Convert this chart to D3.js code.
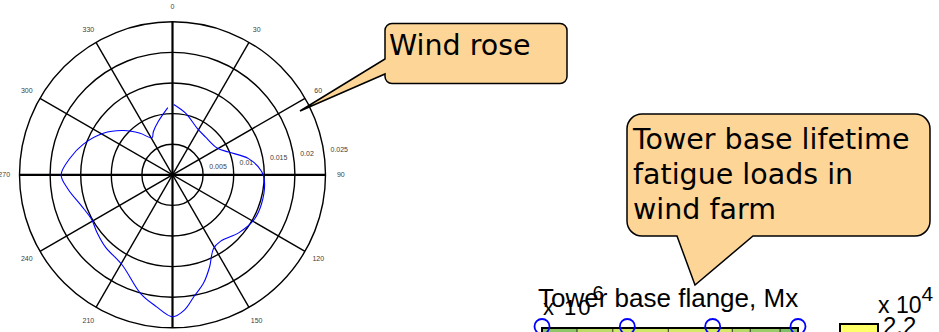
<!DOCTYPE html>
<html>
  <head>
    <meta charset="utf-8">
    <title>Wind rose and tower loads</title>
    <script src="https://d3js.org/d3.v7.min.js"></script>
    <style>
body { margin: 0; background: #fff; }
svg { display: block; }
.plabel { font: 7px "Liberation Sans", Arial, sans-serif; fill: #404040; }
.callout { fill: #fdd597; stroke: #000; stroke-width: 1.5; }
.ctext { font-family: "DejaVu Sans", Verdana, sans-serif; font-size: 28.5px; fill: #000; }
.mtext { font-family: "Liberation Sans", Arial, sans-serif; fill: #000; }
    </style>
  </head>
  <body>
<script>

var windDir  = [1, 12, 28, 41, 59, 68, 78, 88, 95, 108, 119, 131, 144, 151, 158, 164, 170, 175, 180,
                187, 195, 209, 223, 233, 241, 251, 262, 270, 279, 289, 301, 312, 322, 331, 336, 345, 356];
var windFreq = [0.0115, 0.0103, 0.0086, 0.0082, 0.0085, 0.0099, 0.0127, 0.0146, 0.0151, 0.0153, 0.0152,
                0.0144, 0.0134, 0.0138, 0.0162, 0.0184, 0.0202, 0.0222, 0.0232,
                0.0217, 0.0201, 0.0169, 0.0161, 0.0155, 0.0151, 0.0157, 0.0172, 0.0182, 0.0170,
                0.0154, 0.0132, 0.0108, 0.0086, 0.0069, 0.0077, 0.0090, 0.0110];

var radialTicks = [0.005, 0.01, 0.015, 0.02, 0.025];
var angleTicks = [0, 30, 60, 90, 120, 150, 180, 210, 240, 270, 300, 330];

var windCallout = ["Wind rose"];
var towerCallout = ["Tower base lifetime", "fatigue loads in", "wind farm"];
var flangeTitle = "Tower base flange, Mx";

// strip of the contour plot that is still visible at the bottom
var turbines = [0, 1, 2, 3];
var bandEdges = [0, 0.41, 0.83, 1.48, 2.23, 2.44, 2.79, 3];
var bandLevels = [1.88, 2.01, 2.07, 2.08, 2.0, 1.92, 1.85];
var colorbarTop = 2.2;

var width = 939,
    height = 332,
    svg = d3.select("body")
      .append("svg")
      .attr("width", width)
      .attr("height", height);

// ---- polar plot ----
var cx = 172.5, cy = 174.8, R = 153;

var rScale = d3.scaleLinear().domain([0, 0.025]).range([0, R]);

var polarG = svg.append("g")
  .attr("transform", "translate(" + cx + "," + cy + ")");

polarG.selectAll("circle.ring").data(radialTicks)
  .enter().append("circle")
    .attr("class", "ring")
    .attr("r", function(d) { return rScale(d); })
    .attr("fill", "none")
    .attr("stroke", "#000")
    .attr("stroke-width", 1.4);

polarG.selectAll("line.spoke").data(angleTicks.filter(function(a) { return a < 180; }))
  .enter().append("line")
    .attr("class", "spoke")
    .attr("x1", function(a) { return R * Math.sin(a * Math.PI / 180); })
    .attr("y1", function(a) { return -R * Math.cos(a * Math.PI / 180); })
    .attr("x2", function(a) { return -R * Math.sin(a * Math.PI / 180); })
    .attr("y2", function(a) { return R * Math.cos(a * Math.PI / 180); })
    .attr("stroke", "#000")
    .attr("stroke-width", function(a) { return a % 90 === 0 ? 2.2 : 1.4; });

polarG.selectAll("text.alabel").data(angleTicks)
  .enter().append("text")
    .attr("class", "plabel")
    .attr("x", function(a) { return 1.1 * R * Math.sin(a * Math.PI / 180); })
    .attr("y", function(a) { return -1.1 * R * Math.cos(a * Math.PI / 180); })
    .attr("text-anchor", "middle")
    .attr("dy", "0.35em")
    .text(function(a) { return a; });

// radial labels sit at 82 deg, left aligned, bottom aligned
var labAng = 82 * Math.PI / 180;
polarG.selectAll("text.rlabel").data(radialTicks)
  .enter().append("text")
    .attr("class", "plabel")
    .attr("x", function(d) { return (rScale(d) + 1.5) * Math.sin(labAng) + 5; })
    .attr("y", function(d) { return -(rScale(d) + 1.5) * Math.cos(labAng) - 1.5; })
    .text(function(d) { return d; });

var rose = d3.lineRadial()
  .angle(function(d) { return d[0] * Math.PI / 180; })
  .radius(function(d) { return rScale(d[1]); })
  .curve(d3.curveCatmullRom.alpha(0.5));

polarG.append("path")
  .datum(d3.zip(windDir, windFreq))
  .attr("d", rose)
  .attr("fill", "none")
  .attr("stroke", "#0000ff")
  .attr("stroke-width", 1.1);

// ---- contour plot strip ----
var plotL = 542, plotR = 798, plotT = 328;
var xPlot = d3.scaleLinear().domain([0, 3]).range([plotL, plotR]);
var levelColor = d3.scaleLinear().domain([1.8, 2.2]).range(["#6fb86a", "#ffff66"]);

var stripG = svg.append("g");
stripG.selectAll("rect.band").data(bandLevels)
  .enter().append("rect")
    .attr("x", function(d, i) { return xPlot(bandEdges[i]); })
    .attr("width", function(d, i) { return xPlot(bandEdges[i + 1]) - xPlot(bandEdges[i]); })
    .attr("y", plotT)
    .attr("height", height - plotT + 5)
    .attr("fill", function(d) { return levelColor(d); });

stripG.selectAll("line.cline").data(bandEdges.slice(1, -1))
  .enter().append("line")
    .attr("x1", function(d) { return xPlot(d); })
    .attr("x2", function(d) { return xPlot(d); })
    .attr("y1", plotT)
    .attr("y2", height)
    .attr("stroke", "#000")
    .attr("stroke-width", 0.8);

stripG.append("rect")
  .attr("x", plotL)
  .attr("y", plotT)
  .attr("width", plotR - plotL)
  .attr("height", 20)
  .attr("fill", "none")
  .attr("stroke", "#000")
  .attr("stroke-width", 2);

stripG.selectAll("circle.turbine").data(turbines)
  .enter().append("circle")
    .attr("cx", function(d) { return xPlot(d); })
    .attr("cy", 326.5)
    .attr("r", 7.5)
    .attr("fill", "none")
    .attr("stroke", "#0000ff")
    .attr("stroke-width", 1.8);

// colorbar top
svg.append("rect")
  .attr("x", 840)
  .attr("y", 324)
  .attr("width", 38)
  .attr("height", 20)
  .attr("fill", levelColor(colorbarTop))
  .attr("stroke", "#000")
  .attr("stroke-width", 2);

svg.append("text")
  .attr("class", "mtext")
  .attr("x", 883)
  .attr("y", 334)
  .attr("font-size", 24)
  .text(colorbarTop.toFixed(1));

var exp4 = svg.append("text")
  .attr("class", "mtext")
  .attr("x", 878)
  .attr("y", 313)
  .attr("font-size", 23);
exp4.append("tspan").text("x 10");
exp4.append("tspan").attr("font-size", 21).attr("dy", -12).text("4");

svg.append("text")
  .attr("class", "mtext")
  .attr("x", 538)
  .attr("y", 307)
  .attr("font-size", 26)
  .text(flangeTitle);

var exp6 = svg.append("text")
  .attr("class", "mtext")
  .attr("x", 543)
  .attr("y", 315)
  .attr("font-size", 22)
  .attr("letter-spacing", 2);
exp6.append("tspan").text("x 10");
exp6.append("tspan").attr("font-size", 20).attr("dy", -15).attr("letter-spacing", 0).text("6");

// ---- callouts ----
function calloutLeft(x, y, w, h, r, b1, b2, tx, ty) {
  return "M" + (x + r) + "," + y + "H" + (x + w - r) +
    "A" + r + "," + r + " 0 0 1 " + (x + w) + "," + (y + r) +
    "V" + (y + h - r) +
    "A" + r + "," + r + " 0 0 1 " + (x + w - r) + "," + (y + h) +
    "H" + (x + r) +
    "A" + r + "," + r + " 0 0 1 " + x + "," + (y + h - r) +
    "V" + b2 + "L" + tx + "," + ty + "L" + x + "," + b1 +
    "V" + (y + r) +
    "A" + r + "," + r + " 0 0 1 " + (x + r) + "," + y + "Z";
}

function calloutBottom(x, y, w, h, r, b1, b2, tx, ty) {
  return "M" + (x + r) + "," + y + "H" + (x + w - r) +
    "A" + r + "," + r + " 0 0 1 " + (x + w) + "," + (y + r) +
    "V" + (y + h - r) +
    "A" + r + "," + r + " 0 0 1 " + (x + w - r) + "," + (y + h) +
    "H" + b2 + "L" + tx + "," + ty + "L" + b1 + "," + (y + h) +
    "H" + (x + r) +
    "A" + r + "," + r + " 0 0 1 " + x + "," + (y + h - r) +
    "V" + (y + r) +
    "A" + r + "," + r + " 0 0 1 " + (x + r) + "," + y + "Z";
}

svg.append("path")
  .attr("class", "callout")
  .attr("d", calloutLeft(385, 23.5, 182, 60, 7, 59, 74, 300, 111));

svg.append("g").selectAll("text").data(windCallout)
  .enter().append("text")
    .attr("class", "ctext")
    .attr("x", 389)
    .attr("y", function(d, i) { return 55 + i * 35; })
    .text(function(d) { return d; });

svg.append("path")
  .attr("class", "callout")
  .attr("d", calloutBottom(627, 114, 303, 122, 15, 677, 753, 695, 285));

svg.append("g").selectAll("text").data(towerCallout)
  .enter().append("text")
    .attr("class", "ctext")
    .attr("x", 633)
    .attr("y", function(d, i) { return 149 + i * 35; })
    .text(function(d) { return d; });

</script>
  </body>
</html>
